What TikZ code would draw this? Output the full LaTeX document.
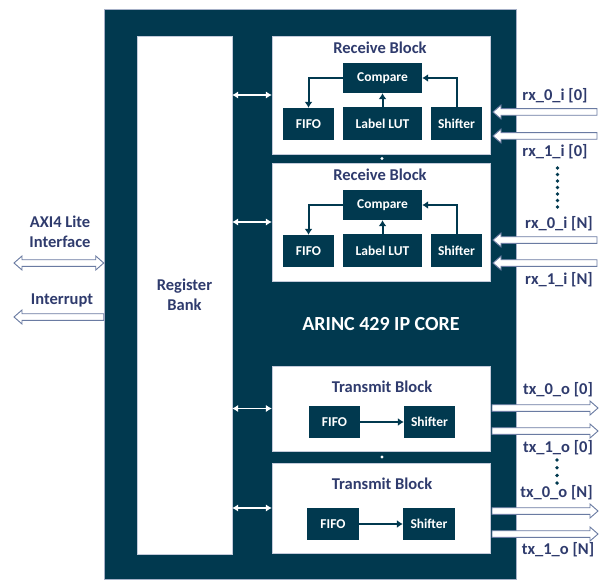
\documentclass[tikz,border=0pt]{standalone}
\usepackage{fontspec}
\setmainfont{Carlito}
\usetikzlibrary{arrows.meta,calc}
\definecolor{core}{HTML}{01394F}
\definecolor{lbl}{HTML}{2F3B6D}
\definecolor{agray}{HTML}{6A7BA2}
\begin{document}
\begin{tikzpicture}[x=1pt,y=-1pt,font=\bfseries,
  corebox/.style={draw=agray!60,line width=0.5pt,fill=core,inner sep=0,anchor=center},
  wbox/.style={fill=white,draw=agray!40,line width=0.4pt,inner sep=0},
  unit/.style={fill=core,inner sep=0,text=white,font=\fontsize{13.5}{15}\bfseries},
  ttl/.style={text=lbl,font=\fontsize{16.5}{19}\bfseries,inner sep=0},
  sig/.style={text=lbl,font=\fontsize{16.5}{19}\bfseries,inner sep=0},
  inarr/.style={draw=core,line width=2pt,-{Latex[length=6pt,width=8pt]}},
  warr/.style={draw=white,line width=1.7pt,{Latex[length=6pt,width=7.5pt]}-{Latex[length=6pt,width=7.5pt]}},
  hol/.style={draw=agray,fill=white,line width=0.9pt},
  tipR/.style={to path={let \p1=(\tikztostart),\p2=(\tikztotarget) in
    (\x1,\y1+3.3pt) -- (\x2-8pt,\y1+3.3pt) -- (\x2-8pt,\y1+7pt) -- (\x2,\y1) -- (\x2-8pt,\y1-7pt) -- (\x2-8pt,\y1-3.3pt) -- (\x1,\y1-3.3pt) -- cycle}},
  tipL/.style={to path={let \p1=(\tikztostart),\p2=(\tikztotarget) in
    (\x1,\y1+3.3pt) -- (\x2+8pt,\y1+3.3pt) -- (\x2+8pt,\y1+7pt) -- (\x2,\y1) -- (\x2+8pt,\y1-7pt) -- (\x2+8pt,\y1-3.3pt) -- (\x1,\y1-3.3pt) -- cycle}},
  tipLR/.style={to path={let \p1=(\tikztostart),\p2=(\tikztotarget) in
    (\x1,\y1) -- (\x1+8pt,\y1+7pt) -- (\x1+8pt,\y1+3.3pt) -- (\x2-8pt,\y1+3.3pt) -- (\x2-8pt,\y1+7pt) -- (\x2,\y1) -- (\x2-8pt,\y1-7pt) -- (\x2-8pt,\y1-3.3pt) -- (\x1+8pt,\y1-3.3pt) -- (\x1+8pt,\y1-7pt) -- cycle}},
  ddot/.style={circle,fill=core,inner sep=0,minimum size=3.8pt},
  wdot/.style={circle,fill=white,inner sep=0,minimum size=3.4pt}
]
\useasboundingbox (0,0) rectangle (600,583);

% core
\node[corebox,minimum width=412pt,minimum height=570pt] (core) at (310,294) {};
\node[wbox,minimum width=95pt,minimum height=518pt,align=center] (rb) at (184.5,295) {};
\node[text=lbl,font=\fontsize{16.5}{20}\bfseries,align=center] (rbt) at (184.5,295) {Register\\Bank};
\node[text=white,font=\fontsize{20}{24}\bfseries,inner sep=0] (arinc) at (381,324) {ARINC 429 IP CORE};

% receive blocks
\foreach \k/\dy in {1/0,2/127}{
  \node[wbox,minimum width=218pt,minimum height=118pt] (rx\k) at (381,95+\dy) {};
  \node[ttl] (rxt\k) at (380,48+\dy) {Receive Block};
  \node[unit,minimum width=79pt,minimum height=30pt] (cmp\k) at (382.5,78+\dy) {Compare};
  \node[unit,minimum width=51pt,minimum height=32pt] (rf\k) at (308.5,124+\dy) {FIFO};
  \node[unit,minimum width=79pt,minimum height=33pt] (lut\k) at (382.5,123.5+\dy) {Label LUT};
  \node[unit,minimum width=51pt,minimum height=33pt] (rs\k) at (456.5,123.5+\dy) {Shifter};
  \draw[inarr] (cmp\k.west) -| (rf\k.north);
  \draw[inarr] (rs\k.north) |- (cmp\k.east);
  \draw[inarr] (lut\k.north) -- (cmp\k.south);
  \draw[warr] (rb.east |- rx\k.west) -- (rx\k.west);
}

% transmit blocks
\node[wbox,minimum width=218pt,minimum height=85pt] (tx1) at (381,408.5) {};
\node[ttl] (txt1) at (382,387) {Transmit Block};
\node[unit,minimum width=51pt,minimum height=32pt] (tf1) at (334.5,422) {FIFO};
\node[unit,minimum width=51pt,minimum height=32pt] (ts1) at (429.5,422) {Shifter};
\draw[inarr] (tf1.east) -- (ts1.west);
\draw[warr] (rb.east |- tx1.west) -- (tx1.west);

\node[wbox,minimum width=218pt,minimum height=90pt] (tx2) at (381,508) {};
\node[ttl] (txt2) at (382,484) {Transmit Block};
\node[unit,minimum width=52pt,minimum height=32pt] (tf2) at (333,524) {FIFO};
\node[unit,minimum width=52pt,minimum height=32pt] (ts2) at (429,524) {Shifter};
\draw[inarr] (tf2.east) -- (ts2.west);
\draw[warr] (rb.east |- tx2.west) -- (tx2.west);

% separator dots
\node[wdot] (sd1) at (382,158.5) {};
\node[wdot] (sd2) at (382,457) {};

% left side
\node[sig,align=center] (axi) at (60,232) {AXI4 Lite\\[1pt]Interface};
\coordinate (axiL) at (14,263);
\draw[hol] (axiL) to[tipLR] (core.west |- axiL);
\node[sig] (intr) at (62,300) {Interrupt};
\coordinate (intL) at (14,317);
\draw[hol] (core.west |- intL) to[tipL] (intL);

% rx inputs
\foreach \q/\yy in {a/112,b/136,c/240,d/263}{
  \coordinate (rxs\q) at (597,\yy);
  \coordinate (rxe\q) at (493,\yy);
  \draw[hol] (rxs\q) to[tipL] (rxe\q);
}
\node[sig] (l1) at (555,96) {rx\_0\_i [0]};
\node[sig] (l2) at (555,152) {rx\_1\_i [0]};
\node[sig] (l3) at (559,224) {rx\_0\_i [N]};
\node[sig] (l4) at (559,280) {rx\_1\_i [N]};
\foreach \i in {0,...,6}{ \node[ddot] (rd\i) at (557.5,168+6.5*\i) {}; }

% tx outputs
\foreach \q/\yy in {a/408,b/431,c/511,d/534}{
  \coordinate (txs\q) at (492,\yy);
  \coordinate (txe\q) at (598,\yy);
  \draw[hol] (txs\q) to[tipR] (txe\q);
}
\node[sig] (t1) at (558,390) {tx\_0\_o [0]};
\node[sig] (t2) at (558,448) {tx\_1\_o [0]};
\node[sig] (t3) at (556.5,493) {tx\_0\_o [N]};
\node[sig] (t4) at (558,550) {tx\_1\_o [N]};
\foreach \i in {0,...,3}{ \node[ddot] (td\i) at (557,460+7.7*\i) {}; }
\end{tikzpicture}
\end{document}
